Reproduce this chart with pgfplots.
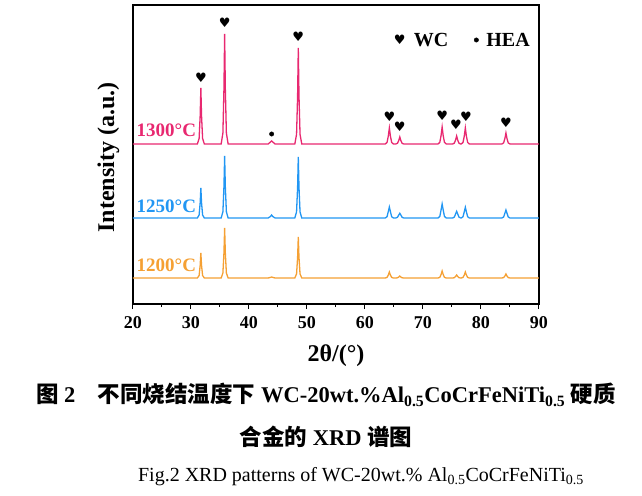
\documentclass[border=0pt]{standalone}
\usepackage{fontspec}
\setmainfont{Liberation Serif}
\newfontfamily\cjk{Noto Sans CJK SC}
\newfontfamily\sym{DejaVu Sans}
\usepackage{pgfplots}
\pgfplotsset{compat=1.18}
\definecolor{cpink}{RGB}{232,40,112}
\definecolor{cblue}{RGB}{33,150,243}
\definecolor{corange}{RGB}{245,160,51}
\begin{document}
\begin{tikzpicture}
\useasboundingbox (-133pt,-191pt) rectangle (509pt,304pt);
\begin{axis}[
  at={(0pt,0pt)}, anchor=south west,
  scale only axis, width=406pt, height=299pt,
  xmin=20, xmax=90, ymin=0, ymax=299,
  xtick={20,30,...,90}, minor x tick num=1,
  ytick=\empty,
  xtick pos=bottom, tick align=outside,
  major tick length=5pt, minor tick length=3pt,
  every tick/.style={black, line width=1pt},
  axis line style={line width=1.3pt},
  /pgf/number format/assume math mode=true,
  xticklabel style={font=\bfseries\fontsize{18}{18}\selectfont, yshift=-4pt},
  xlabel={\bfseries 2θ/(°)},
  xlabel style={font=\fontsize{24}{24}\selectfont, yshift=-9pt},
  ylabel={\bfseries Intensity (a.u.)},
  ylabel style={font=\fontsize{24}{24}\selectfont, at={(axis description cs:-0.025,0.49)}, anchor=south},
  clip=false,
]
% 1200 C
\addplot[corange, line width=1.3pt] coordinates {
(20,26)
(31.1,26)(31.4,28.5)(31.58,38.5)(31.7,51)(31.82,38.5)(32.0,28.5)(32.3,26)
(35.2,26)(35.5,31)(35.68,51)(35.8,76)(35.92,51)(36.1,31)(36.4,26)
(43.3,26)(43.7,26.6)(43.9,27)(44.1,26.6)(44.5,26)
(47.9,26)(48.2,30.1)(48.38,46.5)(48.5,67)(48.62,46.5)(48.8,30.1)(49.1,26)
(63.5,26)(63.8,26.6)(64.02,29)(64.2,32)(64.38,29)(64.6,26.6)(64.9,26)
(65.3,26)(65.6,26.2)(65.82,27)(66.0,28)(66.18,27)(66.4,26.2)(66.7,26)
(72.6,26)(72.9,26.7)(73.12,29.5)(73.3,33)(73.48,29.5)(73.7,26.7)(74.0,26)
(75.1,26)(75.4,26.3)(75.62,27.5)(75.8,29)(75.98,27.5)(76.2,26.3)(76.5,26)
(76.6,26)(76.9,26.6)(77.12,29)(77.3,32)(77.48,29)(77.7,26.6)(78.0,26)
(83.6,26)(83.9,26.4)(84.12,28)(84.3,30)(84.48,28)(84.7,26.4)(85.0,26)
(90,26)
};
% 1250 C
\addplot[cblue, line width=1.3pt] coordinates {
(20,86)
(31.1,86)(31.4,89)(31.58,101)(31.7,116)(31.82,101)(32.0,89)(32.3,86)
(35.2,86)(35.5,92.2)(35.68,117)(35.8,148)(35.92,117)(36.1,92.2)(36.4,86)
(43.3,86)(43.7,87.5)(43.9,89)(44.1,87.5)(44.5,86)
(47.9,86)(48.2,92.1)(48.38,116.5)(48.5,147)(48.62,116.5)(48.8,92.1)(49.1,86)
(63.5,86)(63.8,87.3)(64.0,92)(64.2,97)(64.4,92)(64.6,87.3)(64.9,86)
(65.3,86)(65.6,86.7)(65.8,88.8)(66.0,90.7)(66.2,88.8)(66.4,86.7)(66.7,86)
(72.6,86)(72.9,87.6)(73.1,93.5)(73.3,100)(73.5,93.5)(73.7,87.6)(74.0,86)
(75.1,86)(75.4,86.9)(75.6,89.8)(75.8,92.7)(76.0,89.8)(76.2,86.9)(76.5,86)
(76.6,86)(76.9,87.3)(77.1,91.8)(77.3,96.7)(77.5,91.8)(77.7,87.3)(78.0,86)
(83.6,86)(83.9,87)(84.1,90.5)(84.3,94)(84.5,90.5)(84.7,87)(85.0,86)
(90,86)
};
% 1300 C
\addplot[cpink, line width=1.3pt] coordinates {
(20,160)
(31.1,160)(31.4,165.6)(31.58,188)(31.7,216)(31.82,188)(32.0,165.6)(32.3,160)
(35.2,160)(35.5,171)(35.68,215)(35.8,270)(35.92,215)(36.1,171)(36.4,160)
(43.3,160)(43.7,162)(43.9,163)(44.1,162)(44.5,160)
(47.9,160)(48.2,169.6)(48.38,208)(48.5,256)(48.62,208)(48.8,169.6)(49.1,160)
(63.5,160)(63.8,161.6)(64.02,168)(64.2,176)(64.38,168)(64.6,161.6)(64.9,160)
(65.3,160)(65.6,160.7)(65.82,163.5)(66.0,167)(66.18,163.5)(66.4,160.7)(66.7,160)
(72.6,160)(72.9,161.7)(73.12,168.5)(73.3,177)(73.48,168.5)(73.7,161.7)(74.0,160)
(75.1,160)(75.4,160.8)(75.62,164)(75.8,168)(75.98,164)(76.2,160.8)(76.5,160)
(76.6,160)(76.9,161.6)(77.12,168)(77.3,176)(77.48,168)(77.7,161.6)(78.0,160)
(83.6,160)(83.9,161.1)(84.12,165.5)(84.3,171)(84.48,165.5)(84.7,161.1)(85.0,160)
(90,160)
};
% WC markers
\addplot[only marks, black, mark=text, text mark={\fontsize{13}{13}\selectfont\sym ♥}] coordinates {
(31.7,226)(35.8,281)(48.5,267)(64.2,187)(66.0,177)(73.3,188)(75.7,179)(77.4,187)(84.3,181)(66.0,264)
};
% HEA markers
\addplot[only marks, mark=*, mark size=2.2pt, black] coordinates {(43.9,170)(79.2,264)};
\node[anchor=west, inner sep=0pt, font=\bfseries\fontsize{20}{20}\selectfont] at (axis cs:68.4,264) {WC};
\node[anchor=west, inner sep=0pt, font=\bfseries\fontsize{20}{20}\selectfont] at (axis cs:80.9,264) {HEA};
\node[anchor=base east, inner sep=0pt, cpink, font=\bfseries\fontsize{19}{19}\selectfont] at (axis cs:30.9,167) {1300°C};
\node[anchor=base east, inner sep=0pt, cblue, font=\bfseries\fontsize{19}{19}\selectfont] at (axis cs:30.9,91) {1250°C};
\node[anchor=base east, inner sep=0pt, corange, font=\bfseries\fontsize{19}{19}\selectfont] at (axis cs:30.9,32.5) {1200°C};
\end{axis}
\node[font=\fontsize{22.5}{22.5}\selectfont] at (193pt,-91pt) {{\cjk\bfseries 图} {\bfseries 2}\quad{\cjk\bfseries 不同烧结温度下} {\bfseries WC-20wt.\%Al\textsubscript{0.5}CoCrFeNiTi\textsubscript{0.5}} {\cjk\bfseries 硬质}};
\node[font=\fontsize{22.5}{22.5}\selectfont] at (193pt,-133pt) {{\cjk\bfseries 合金的} {\bfseries XRD} {\cjk\bfseries 谱图}};
\node[font=\fontsize{20}{20}\selectfont] at (228pt,-173pt) {Fig.2 XRD patterns of WC-20wt.\% Al\textsubscript{0.5}CoCrFeNiTi\textsubscript{0.5}};
\end{tikzpicture}
\end{document}
